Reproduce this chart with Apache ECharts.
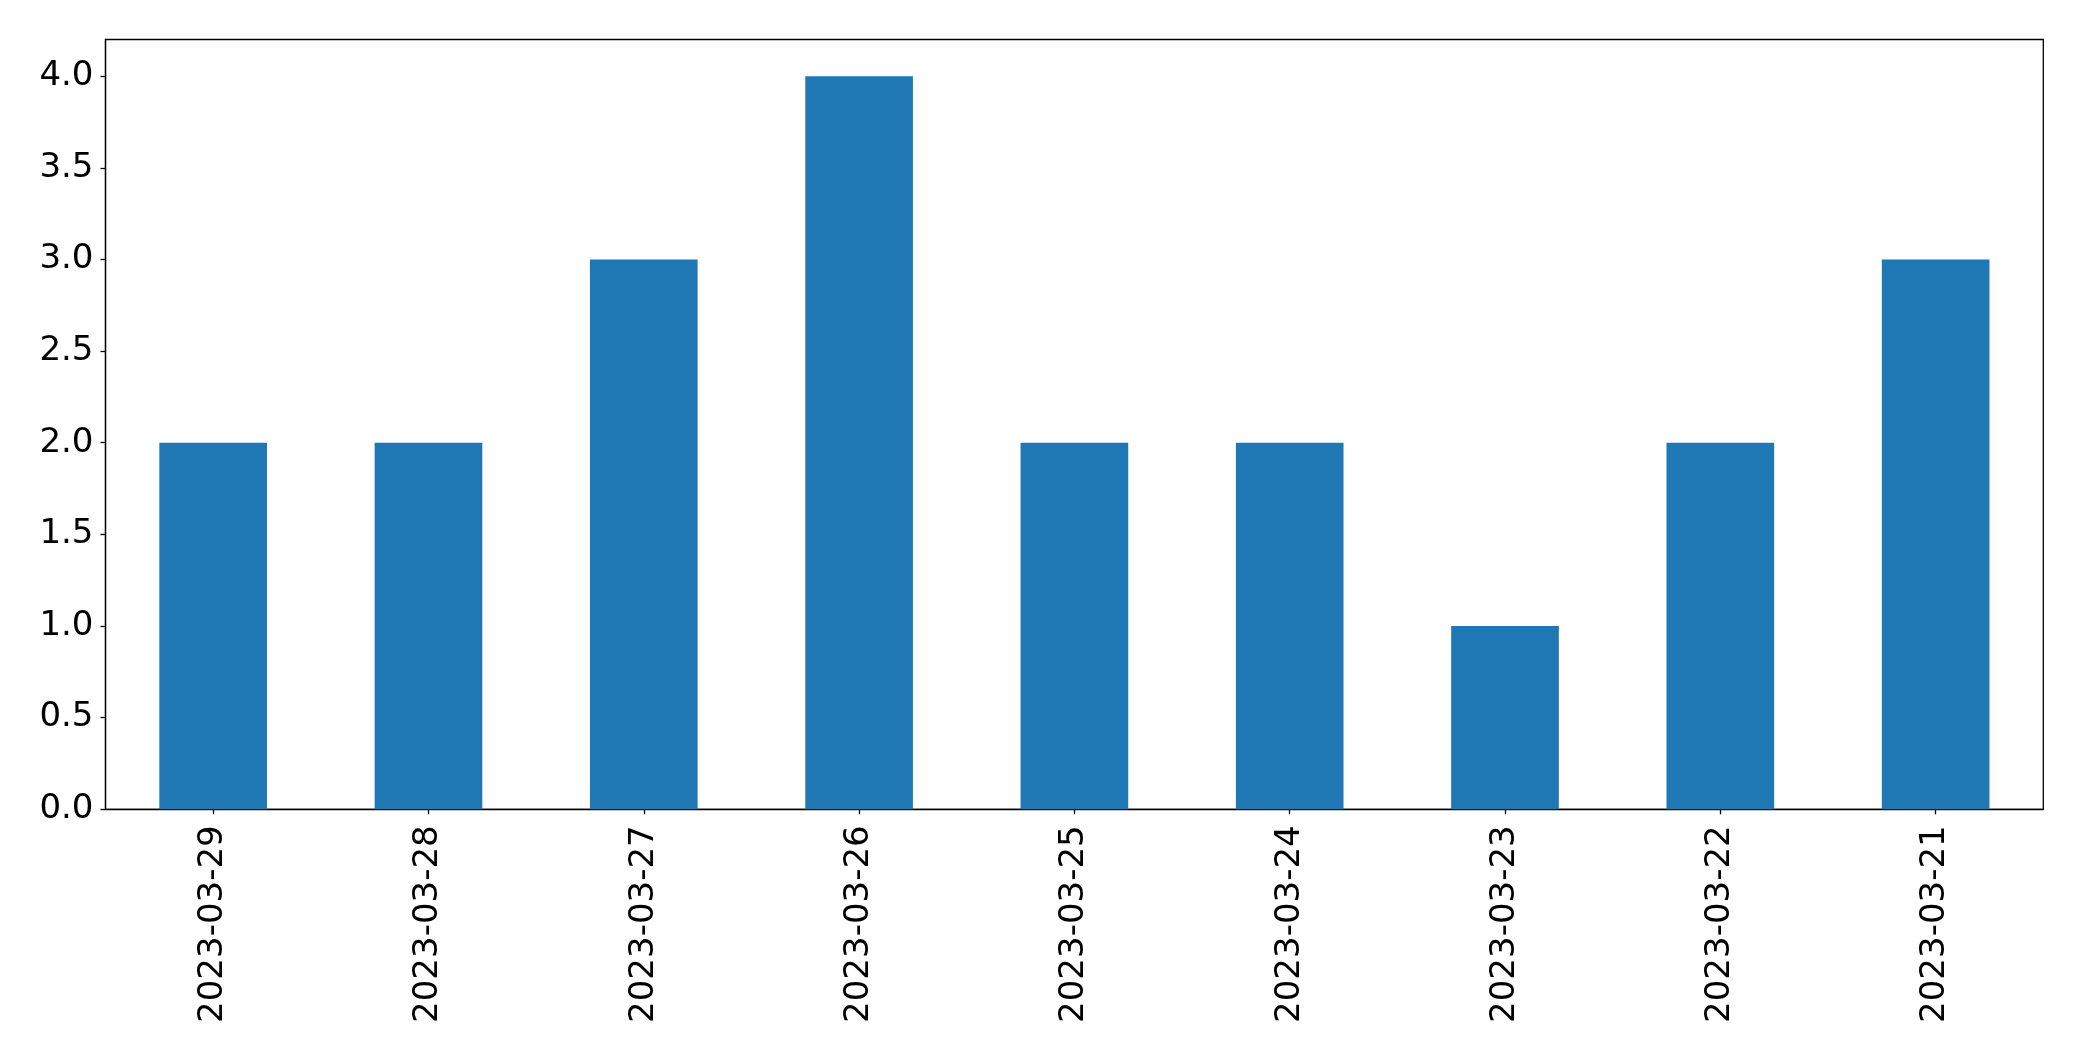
<!DOCTYPE html>
<html>
<head>
<meta charset="utf-8">
<script src="https://cdn.jsdelivr.net/npm/echarts@6/dist/echarts.min.js"></script>
<style>
html,body{margin:0;padding:0;background:#fff;}
#chart{width:2082px;height:1061px;}
</style>
</head>
<body>
<div id="chart"></div>
<script>
const categories = ["2023-03-29","2023-03-28","2023-03-27","2023-03-26","2023-03-25","2023-03-24","2023-03-23","2023-03-22","2023-03-21"];
const values = [2, 2, 3, 4, 2, 2, 1, 2, 3];
const yTicks = [0, 0.5, 1.0, 1.5, 2.0, 2.5, 3.0, 3.5, 4.0];

const chart = echarts.init(document.getElementById('chart'), null, {renderer: 'canvas'});
const font = 'DejaVu Sans';
chart.setOption({
  animation: false,
  backgroundColor: '#ffffff',
  grid: {
    left: 105.5, right: 38.7, top: 39.5, bottom: 251.7,
    show: true, borderColor: '#000', borderWidth: 1.3, backgroundColor: 'transparent'
  },
  xAxis: {
    type: 'category',
    data: categories,
    axisLine: {show: true, lineStyle: {color: '#000', width: 1.3}},
    axisTick: {show: true, alignWithLabel: true, length: 5, lineStyle: {color: '#000', width: 1.3}},
    axisLabel: {rotate: 90, margin: 16, color: '#000', fontFamily: font, fontSize: 34, interval: 0},
    splitLine: {show: false}
  },
  yAxis: {
    type: 'value',
    min: 0, max: 4.2,
    axisLine: {show: true, lineStyle: {color: '#000', width: 1.3}},
    axisTick: {show: true, length: 5, customValues: yTicks, lineStyle: {color: '#000', width: 1.3}},
    axisLabel: {customValues: yTicks, margin: 12, color: '#000', fontFamily: font, fontSize: 34,
      formatter: v => Number(v).toFixed(1)},
    splitLine: {show: false}
  },
  series: [{
    type: 'bar',
    data: values,
    barWidth: '50%',
    itemStyle: {color: '#1f77b4'}
  }]
});
</script>
</body>
</html>
